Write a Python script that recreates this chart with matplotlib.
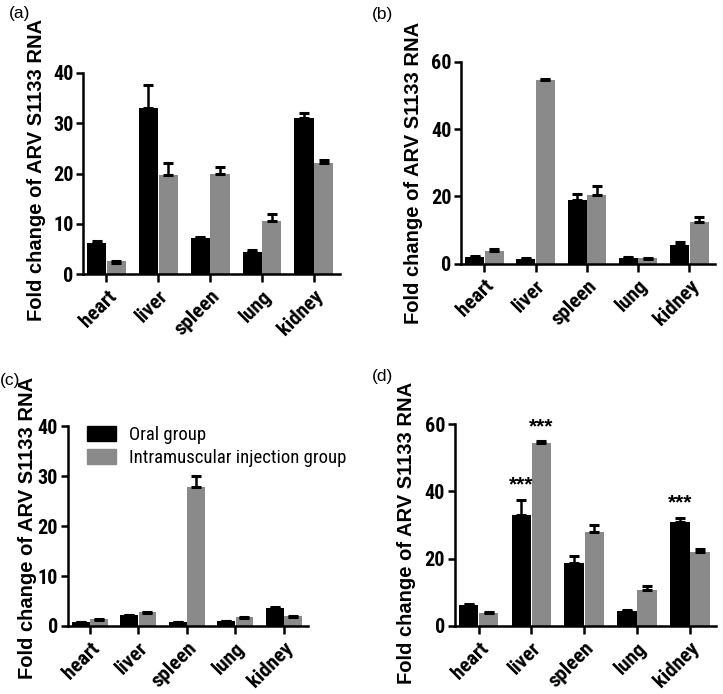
import numpy as np
import matplotlib
matplotlib.use('agg')
import matplotlib.pyplot as plt
from matplotlib.patches import Patch

organs = ['heart', 'liver', 'spleen', 'lung', 'kidney']
series_names = ['Oral group', 'Intramuscular injection group']
ylabel_text = 'Fold change of ARV S1133 RNA'

# panel (a)
a_oral = [6.2, 33.0, 7.2, 4.4, 31.0]
a_oral_err = [0.4, 4.5, 0.1, 0.3, 1.0]
a_im = [2.6, 19.8, 20.0, 10.6, 22.0]
a_im_err = [-0.3, 2.2, 1.3, 1.4, 0.7]

# panel (b)
b_oral = [2.0, 1.5, 18.8, 1.8, 5.7]
b_oral_err = [0.2, 0.1, 2.0, 0.1, 0.9]
b_im = [3.8, 54.5, 20.3, 1.6, 12.3]
b_im_err = [0.6, 0.4, 2.7, -0.2, 1.5]

# panel (c)
c_oral = [0.8, 2.1, 0.7, 0.9, 3.5]
c_oral_err = [0.05, 0.05, 0.05, 0.05, 0.3]
c_im = [1.3, 2.8, 27.8, 1.8, 1.9]
c_im_err = [-0.2, -0.2, 2.2, -0.2, -0.2]

# panel (d)
d_oral = [6.1, 33.0, 18.8, 4.4, 31.0]
d_oral_err = [0.4, 4.5, 2.0, 0.3, 1.2]
d_im = [3.8, 54.5, 28.0, 10.6, 22.0]
d_im_err = [0.4, 0.4, 2.0, 1.4, 0.8]
d_stars = [(1, 0, '***'), (1, 1, '***'), (4, 0, '***')]

black = '#000000'
grey = '#8a8a8a'
narrow = ['Roboto Condensed', 'Liberation Sans', 'DejaVu Sans']
sans = ['Liberation Sans', 'DejaVu Sans']

fig = plt.figure(figsize=(7.23, 6.94), dpi=100)

def panel(rect, oral, oral_err, im, im_err, ymax, yticks, label, lab_xy, ylab_xy):
    ax = fig.add_axes(rect)
    x = np.arange(len(organs))
    w = 0.37
    off = 0.19
    for vals, errs, col, sgn in [(oral, oral_err, black, -1), (im, im_err, grey, 1)]:
        ax.bar(x + sgn * off, vals, w, color=col, zorder=2)
        for xi, v, e in zip(x, vals, errs):
            # upper bar only; negative value = cap drawn inside the bar
            ax.errorbar(xi + sgn * off, v, yerr=[[0], [e]] if e > 0 else [[-e], [0]],
                        fmt='none', ecolor='black', elinewidth=1.8, capsize=3.5,
                        capthick=2.2, zorder=3)
    ax.set_xlim(-0.45, 4.5)
    ax.set_ylim(0, ymax)
    ax.set_yticks(yticks)
    ax.set_xticks(x)
    ax.set_xticklabels(organs, rotation=45, ha='right', rotation_mode='anchor',
                       fontsize=15, fontweight='bold', family=narrow)
    for t in ax.get_yticklabels():
        t.set_fontsize(14.5)
        t.set_fontweight('bold')
        t.set_family(narrow)
    for s in ['top', 'right']:
        ax.spines[s].set_visible(False)
    for s in ['left', 'bottom']:
        ax.spines[s].set_linewidth(1.8)
    ax.tick_params(axis='both', width=1.8, length=5, pad=2)
    ax.tick_params(axis='x', length=6, pad=3)
    ax.set_ylabel(ylabel_text, fontsize=14.5, fontweight='bold', family=sans)
    ax.yaxis.set_label_coords(*ylab_xy)
    fig.text(lab_xy[0], lab_xy[1], label, fontsize=12.5, family=sans, va='top')
    return ax

axa = panel([0.115, 0.605, 0.355, 0.290], a_oral, a_oral_err, a_im, a_im_err,
            40, [0, 10, 20, 30, 40], '(a)', (0.012, 0.992), (-0.145, 0.52))
axb = panel([0.638, 0.620, 0.351, 0.291], b_oral, b_oral_err, b_im, b_im_err,
            60, [0, 20, 40, 60], '(b)', (0.515, 0.990), (-0.15, 0.45))
axc = panel([0.094, 0.098, 0.332, 0.288], c_oral, c_oral_err, c_im, c_im_err,
            40, [0, 10, 20, 30, 40], '(c)', (0.0, 0.462), (-0.13, 0.49))
axd = panel([0.629, 0.098, 0.362, 0.291], d_oral, d_oral_err, d_im, d_im_err,
            60, [0, 20, 40, 60], '(d)', (0.515, 0.468), (-0.147, 0.46))

# significance stars on panel (d)
for gi, si, txt in d_stars:
    vals = d_oral if si == 0 else d_im
    errs = d_oral_err if si == 0 else d_im_err
    xpos = gi + (-0.19 if si == 0 else 0.19)
    axd.text(xpos, vals[gi] + max(errs[gi], 0) + 1.5, txt, ha='center', va='bottom',
             fontsize=15, fontweight='bold', family=sans)

# legend on panel (c)
handles = [Patch(color=black), Patch(color=grey)]
axc.legend(handles, series_names, loc='upper left', bbox_to_anchor=(0.05, 1.04),
           frameon=False, prop={'family': narrow, 'size': 13.5}, handlelength=1.5,
           handleheight=0.9, handletextpad=0.7, labelspacing=0.25, borderaxespad=0)

fig.savefig('out.png', dpi=100)
